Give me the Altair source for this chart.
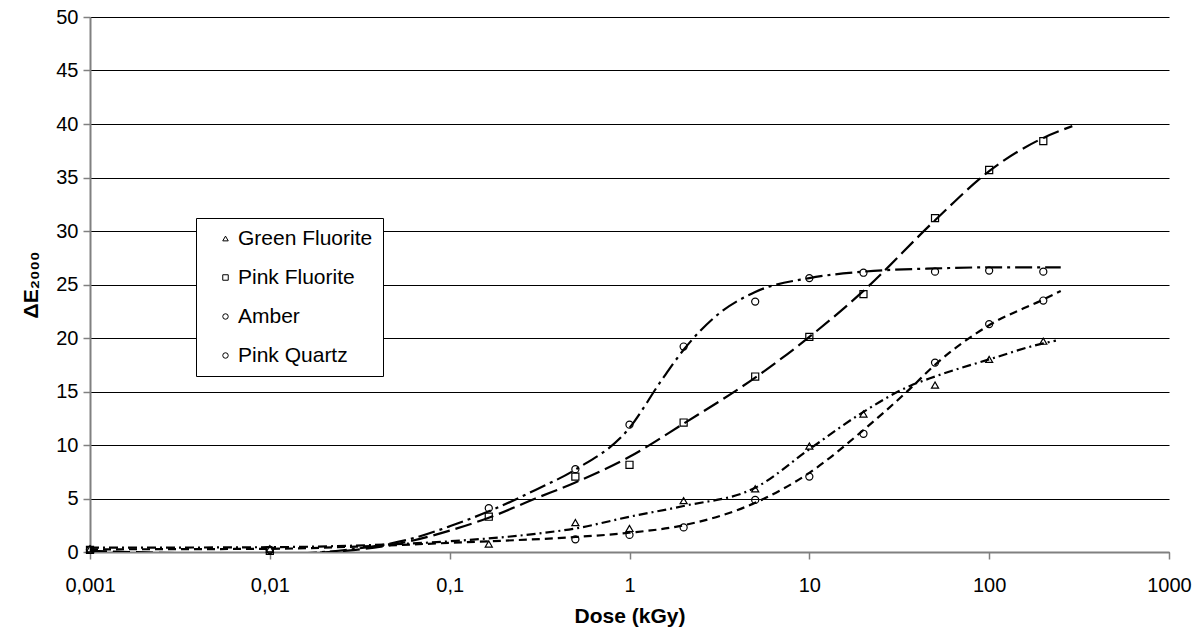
import altair as alt
import pandas as pd
import numpy as np

# ---------------- data ----------------
series = ["Green Fluorite", "Pink Fluorite", "Amber", "Pink Quartz"]
shapes = ["triangle-up", "square", "circle", "circle"]
dashes = [[9, 4, 2, 4], [17, 6], [8, 5], [17, 5, 3, 5]]

# measured points (dose in kGy)
dose_points = [0.001, 0.01, 0.165, 0.5, 1, 2, 5, 10, 20, 50, 100, 200]
gf_points = [0.3, 0.3, 0.75, 2.75, 2.2, 4.8, 5.9, 9.9, 12.9, 15.6, 18.0, 19.7]
pf_points = [0.2, 0.1, 3.3, 7.05, 8.15, 12.1, 16.4, 20.1, 24.1, 31.2, 35.7, 38.4]
am_points = [0.2, 0.2, None, 1.19, 1.6, 2.3, 4.87, 7.05, 11.05, 17.7, 21.3, 23.5]
pq_points = [0.2, 0.2, 4.1, 7.74, 11.9, 19.2, 23.4, 25.6, 26.1, 26.2, 26.3, 26.2]

# trend curves
gf_curve_dose = [0.001, 0.01, 0.03, 0.1, 0.3, 0.5, 1, 2, 5, 10, 20, 36, 50, 100, 200, 235]
gf_curve = [0.4, 0.45, 0.6, 1.0, 1.7, 2.2, 3.3, 4.3, 6.0, 9.6, 13.1, 15.5, 16.4, 18.0, 19.5, 19.75]

pf_curve_dose = [0.001, 0.003, 0.01, 0.03, 0.06, 0.1, 0.165, 0.3, 0.5, 1, 2, 5, 10, 20, 50, 100, 200, 290]
pf_curve = [0.1, -0.1, -0.2, 0.2, 1.0, 2.0, 3.2, 5.0, 6.5, 8.9, 12.0, 16.3, 20.1, 24.4, 31.0, 35.6, 38.7, 39.8]

am_curve_dose = [0.001, 0.01, 0.03, 0.1, 0.165, 0.5, 1, 2, 5, 10, 20, 36, 50, 100, 200, 250]
am_curve = [0.25, 0.3, 0.5, 0.85, 1.0, 1.4, 1.8, 2.5, 4.6, 7.4, 11.4, 15.2, 17.5, 21.2, 23.6, 24.4]

pq_curve_dose = [0.001, 0.003, 0.01, 0.03, 0.06, 0.1, 0.165, 0.3, 0.5, 1, 1.5, 2, 3, 5, 10, 20, 50, 100, 250]
pq_curve = [0.0, -0.2, -0.2, 0.3, 1.2, 2.4, 3.8, 5.8, 7.7, 11.6, 16.0, 18.9, 22.0, 24.3, 25.6, 26.2, 26.5, 26.6, 26.6]

x_ticks = [0.001, 0.01, 0.1, 1, 10, 100, 1000]
y_ticks = [0, 5, 10, 15, 20, 25, 30, 35, 40, 45, 50]

# ---------------- build tables ----------------
pt_rows = []
for name, vals in zip(series, [gf_points, pf_points, am_points, pq_points]):
    for d, v in zip(dose_points, vals):
        if v is not None:
            pt_rows.append({"series": name, "dose": d, "dE": v})
points_df = pd.DataFrame(pt_rows)

curves = [(gf_curve_dose, gf_curve), (pf_curve_dose, pf_curve),
          (am_curve_dose, am_curve), (pq_curve_dose, pq_curve)]

FONT = "Liberation Sans"

x_scale = alt.Scale(type="log", domain=[0.001, 1000], nice=False)
y_scale = alt.Scale(domain=[0, 50], nice=False)

x_axis = alt.Axis(values=x_ticks, title="Dose (kGy)", grid=False,
                  labelExpr="replace(toString(datum.value), '.', ',')",
                  labelFontSize=20, labelPadding=16, titleFontSize=21,
                  titleFontWeight="bold", titlePadding=10, tickSize=7,
                  labelFlush=False)
y_axis = alt.Axis(values=y_ticks, title="ΔE₂₀₀₀", grid=True,
                  labelFontSize=20, labelPadding=5, titleFontSize=21,
                  titleFontWeight="bold", titlePadding=14, tickSize=7)

layers = []
for name, (cd, cv), dash in zip(series, curves, dashes):
    df = pd.DataFrame({"dose": cd, "dE": cv, "series": name})
    layers.append(
        alt.Chart(df).mark_line(color="black", strokeWidth=2.2, strokeDash=dash,
                                interpolate="monotone", clip=True)
        .encode(x=alt.X("dose:Q", scale=x_scale, axis=x_axis),
                y=alt.Y("dE:Q", scale=y_scale, axis=y_axis))
    )

pts = alt.Chart(points_df).mark_point(filled=False, color="black", strokeWidth=1.2,
                                      size=50, opacity=1).encode(
    x=alt.X("dose:Q", scale=x_scale, axis=x_axis),
    y=alt.Y("dE:Q", scale=y_scale, axis=y_axis),
    shape=alt.Shape("series:N", sort=series,
                    scale=alt.Scale(domain=series, range=shapes),
                    legend=alt.Legend(title=None, orient="none", legendX=106, legendY=201,
                                      labelFontSize=21, labelFont=FONT,
                                      labelExpr="datum.label + '\u00a0\u00a0'",
                                      symbolSize=30, symbolStrokeColor="black",
                                      symbolFillColor="transparent", symbolStrokeWidth=1,
                                      strokeColor="black", fillColor="white",
                                      padding=10, rowPadding=17, symbolOffset=9,
                                      labelOffset=2)),
)
layers.append(pts)

chart = alt.layer(*layers).properties(
    width=1079, height=535,
    autosize=alt.AutoSizeParams(type="none"),
    padding={"left": 90, "top": 17, "right": 29, "bottom": 83},
    background="white",
).configure_view(stroke=None).configure_axis(
    labelFont=FONT, titleFont=FONT, labelColor="black", titleColor="black",
    domainColor="#808080", domainWidth=2, tickColor="#808080", tickWidth=1.5,
    gridColor="black", gridWidth=1, gridOpacity=1,
)

chart.save("out.html", embed_options={"renderer": "svg", "actions": False})
